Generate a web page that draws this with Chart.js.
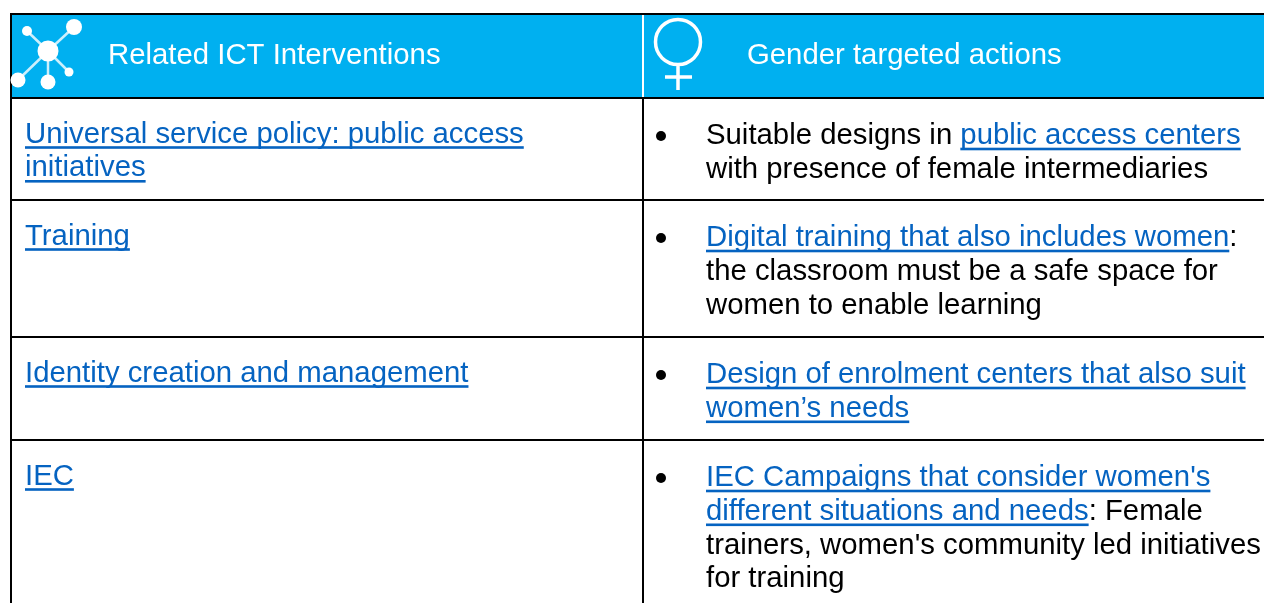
<!DOCTYPE html>
<html>
<head>
<meta charset="utf-8">
<title>Gender targeted actions</title>
<style>
  html, body { margin: 0; padding: 0; background: #fff; overflow: hidden; }
  canvas { display: block; }
</style>
</head>
<body>
<canvas id="tableChart" width="1264" height="603"></canvas>
<script src="https://cdn.jsdelivr.net/npm/chart.js@4/dist/chart.umd.min.js"></script>
<script>
const headers = ["Related ICT Interventions", "Gender targeted actions"];

// text between * * is a link
const interventions = [
  ["*Universal service policy: public access*", "*initiatives*"],
  ["*Training*"],
  ["*Identity creation and management*"],
  ["*IEC*"]
];
const genderActions = [
  ["Suitable designs in *public access centers*", "with presence of female intermediaries"],
  ["*Digital training that also includes women*:", "the classroom must be a safe space for", "women to enable learning"],
  ["*Design of enrolment centers that also suit*", "*women\u2019s needs*"],
  ["*IEC Campaigns that consider women's*", "*different situations and needs*: Female", "trainers, women's community led initiatives", "for training"]
];

// table borders
const columnLines = [11, 643];
const rowLines = [14, 98, 200, 337, 440];

const FONT = '29.33px "Liberation Sans", Arial, sans-serif';
const LINK = "#0563c1";
const CYAN = "#00b0f0";
const LINE_H = 33.8;
const HEADER_END = 1264;
const rowStarts = rowLines.slice(1);

function drawLine(ctx, x, y, line) {
  line.split("*").forEach((part, i) => {
    if (!part) return;
    const w = ctx.measureText(part).width;
    ctx.fillStyle = i % 2 ? LINK : "#000";
    ctx.fillText(part, x, y);
    if (i % 2) ctx.fillRect(x, y + 3.7, w, 2.6);
    x += w;
  });
}

function drawNetwork(ctx) {
  const nodes = [[27, 31, 5], [74, 27, 8], [18, 80, 7.5], [48, 82, 7.5], [69, 72, 4.5]];
  ctx.strokeStyle = "rgba(255,255,255,0.8)";
  ctx.fillStyle = "#fff";
  ctx.lineWidth = 2.5;
  nodes.forEach(([x, y, r]) => {
    ctx.beginPath();
    ctx.moveTo(48, 51);
    ctx.lineTo(x, y);
    ctx.stroke();
    ctx.beginPath();
    ctx.arc(x, y, r, 0, Math.PI * 2);
    ctx.fill();
  });
  ctx.beginPath();
  ctx.arc(48, 51, 10.5, 0, Math.PI * 2);
  ctx.fill();
}

function drawVenus(ctx) {
  ctx.strokeStyle = "#fff";
  ctx.lineWidth = 3.5;
  ctx.beginPath();
  ctx.arc(678, 42, 22.5, 0, Math.PI * 2);
  ctx.moveTo(678, 64);
  ctx.lineTo(678, 90);
  ctx.moveTo(665, 77);
  ctx.lineTo(692, 77);
  ctx.stroke();
}

const tableText = {
  id: "tableText",
  afterDraw(chart) {
    const { ctx, scales } = chart;
    const px = (v) => scales.x.getPixelForValue(v);
    const py = (v) => scales.y.getPixelForValue(v);
    ctx.save();
    drawNetwork(ctx);
    drawVenus(ctx);
    ctx.font = FONT;
    ctx.textBaseline = "alphabetic";
    ctx.fillStyle = "#fff";
    ctx.fillText(headers[0], px(108), py(64));
    ctx.fillText(headers[1], px(747), py(64));
    rowStarts.forEach((top, r) => {
      interventions[r].forEach((line, i) => {
        drawLine(ctx, px(25), py(top + 44.5 + i * LINE_H), line);
      });
      genderActions[r].forEach((line, i) => {
        drawLine(ctx, px(706), py(top + 46 + i * LINE_H), line);
      });
    });
    ctx.restore();
  }
};

new Chart(document.getElementById("tableChart"), {
  type: "scatter",
  data: {
    datasets: [
      {
        // header band
        data: [{ x: 12, y: 15 }, { x: HEADER_END, y: 15 }],
        showLine: true,
        borderWidth: 0,
        pointRadius: 0,
        backgroundColor: CYAN,
        fill: { value: 97 },
        order: 2
      },
      {
        // white divider between the header cells
        data: [{ x: 643, y: 15 }, { x: 643, y: 97 }],
        showLine: true,
        borderColor: "#fff",
        borderWidth: 2,
        pointRadius: 0,
        order: 1
      },
      {
        // bullets of the right column
        data: rowStarts.map((top) => ({ x: 661, y: top + 38 })),
        pointRadius: 5,
        pointBackgroundColor: "#000",
        pointBorderWidth: 0,
        order: 0
      }
    ]
  },
  plugins: [tableText],
  options: {
    responsive: false,
    animation: false,
    layout: { autoPadding: false, padding: { left: 10, top: 13 } },
    plugins: { legend: { display: false }, tooltip: { enabled: false } },
    scales: {
      x: {
        type: "linear",
        min: 10,
        max: 1264,
        afterBuildTicks: (axis) => { axis.ticks = columnLines.map((value) => ({ value })); },
        ticks: { display: false },
        border: { display: false },
        grid: { color: "#000", lineWidth: 2, drawTicks: false }
      },
      y: {
        type: "linear",
        reverse: true,
        min: 13,
        max: 603,
        afterBuildTicks: (axis) => { axis.ticks = rowLines.map((value) => ({ value })); },
        ticks: { display: false },
        border: { display: false },
        grid: { color: "#000", lineWidth: 2, drawTicks: false }
      }
    }
  }
});
</script>
</body>
</html>
